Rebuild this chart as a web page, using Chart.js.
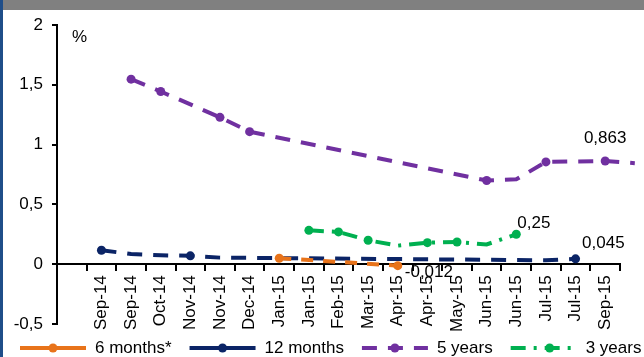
<!DOCTYPE html>
<html>
<head>
<meta charset="utf-8">
<script src="https://cdn.jsdelivr.net/npm/chart.js@4/dist/chart.umd.min.js"></script>
<style>
  html, body { margin: 0; padding: 0; background: #fff; }
  #wrap { position: relative; width: 644px; height: 357px; overflow: hidden; background: #fff; }
  #topbar { position: absolute; left: 0; top: 0; width: 644px; height: 10px; background: #808080; }
  #leftbar { position: absolute; left: 0; top: 0; width: 3px; height: 357px; background: #1f4e89; }
  canvas { position: absolute; left: 0; top: 0; }
</style>
</head>
<body>
<div id="wrap">
  <canvas id="c" width="644" height="357"></canvas>
  <div id="topbar"></div>
  <div id="leftbar"></div>
</div>
<script>
// ---- data ----
const categories = ['', 'Sep-14', 'Sep-14', 'Oct-14', 'Nov-14', 'Nov-14', 'Dec-14', 'Jan-15', 'Jan-15', 'Feb-15',
  'Mar-15', 'Apr-15', 'Apr-15', 'May-15', 'Jun-15', 'Jun-15', 'Jul-15', 'Jul-15', 'Sep-15', ''];
const seriesNames = ['6 months*', '12 months', '5 years', '3 years'];
const sixMonths    = [null, null, null, null, null, null, null, 0.05, null, null, null, -0.012, null, null, null, null, null, null, null, null];
const twelveMonths = [null, 0.117, 0.085, 0.075, 0.07, 0.055, null, null, null, null, null, null, null, null, null, null, 0.033, 0.045, null, null];
const fiveYears    = [null, null, 1.547, 1.444, null, 1.228, 1.108, null, null, null, null, null, null, null, 0.70, 0.71, 0.855, null, 0.863, 0.845];
const threeYears   = [null, null, null, null, null, null, null, null, 0.283, 0.27, 0.20, 0.155, 0.18, 0.186, 0.165, 0.25, null, null, null, null];
// indices whose points carry a visible marker
const markedSix = [7, 11];
const markedTwelve = [1, 4, 17];
const markedFive = [2, 3, 5, 6, 14, 16, 18];
const markedThree = [8, 9, 10, 12, 13, 15];
const yTicks = { min: -0.5, max: 2, step: 0.5 };
const lastCategoryIndex = 18;

const FONT = '"Liberation Sans", Arial, sans-serif';
const fmt = v => String(v).replace('.', ',');
const radii = (vals, marked) => vals.map((v, i) => marked.includes(i) ? 4.5 : 0);

function makeDataset(label, vals, marked, color, dash) {
  return {
    label, data: vals, borderColor: color, backgroundColor: color,
    pointBackgroundColor: color, pointBorderColor: color,
    pointRadius: radii(vals, marked), pointHoverRadius: radii(vals, marked),
    pointBorderWidth: 0, borderWidth: 4, borderDash: dash, tension: 0,
    spanGaps: true, fill: false, clip: false
  };
}

const valueLabels = {
  id: 'valueLabels',
  afterDatasetsDraw(chart, args, opts) {
    const ctx = chart.ctx;
    ctx.save();
    ctx.font = opts.font;
    ctx.fillStyle = '#000';
    ctx.textBaseline = 'alphabetic';
    opts.items.forEach(it => {
      const el = chart.getDatasetMeta(it.dataset).data[it.index];
      const v = chart.data.datasets[it.dataset].data[it.index];
      ctx.textAlign = it.align;
      ctx.fillText(fmt(v), el.x + it.dx, el.y + it.dy);
    });
    // unit label
    ctx.textAlign = 'left';
    ctx.fillText('%', chart.chartArea.left + 15, chart.chartArea.top + 17);
    ctx.restore();
  }
};

const refLegend = {
  id: 'refLegend',
  afterDraw(chart, args, opts) {
    const ctx = chart.ctx;
    ctx.save();
    ctx.font = opts.font;
    let x = opts.startX;
    const y = opts.y;
    chart.data.datasets.forEach((ds, i) => {
      const w = opts.sampleWidth;
      ctx.strokeStyle = ds.borderColor;
      ctx.lineWidth = ds.borderWidth;
      ctx.setLineDash(opts.dashed[i] ? ds.borderDash : []);
      ctx.beginPath(); ctx.moveTo(x, y); ctx.lineTo(x + w, y); ctx.stroke();
      ctx.setLineDash([]);
      ctx.fillStyle = ds.pointBackgroundColor;
      ctx.beginPath(); ctx.arc(x + w / 2 + opts.markerShift[i], y, opts.markerRadius, 0, Math.PI * 2); ctx.fill();
      ctx.fillStyle = '#000';
      ctx.textAlign = 'left';
      ctx.textBaseline = 'middle';
      const tx = x + w + opts.textGap;
      ctx.fillText(ds.label, tx, y);
      x = tx + ctx.measureText(ds.label).width + opts.itemGap;
    });
    ctx.restore();
  }
};

new Chart(document.getElementById('c'), {
  type: 'line',
  data: {
    labels: categories,
    datasets: [
      makeDataset(seriesNames[0], sixMonths, markedSix, '#e8731a', [12, 10]),
      makeDataset(seriesNames[1], twelveMonths, markedTwelve, '#0b2466', [15, 11]),
      makeDataset(seriesNames[2], fiveYears, markedFive, '#7030a0', [15, 11]),
      makeDataset(seriesNames[3], threeYears, markedThree, '#00b050', [15, 8, 3, 8])
    ]
  },
  options: {
    responsive: false,
    animation: false,
    events: [],
    layout: { padding: { left: 0, right: 24, top: 25, bottom: 33 } },
    plugins: {
      legend: { display: false },
      tooltip: { enabled: false },
      valueLabels: {
        font: '17px ' + FONT,
        items: [
          { dataset: 2, index: 18, dx: 0, dy: -18, align: 'center' },
          { dataset: 3, index: 15, dx: 1, dy: -6, align: 'left' },
          { dataset: 1, index: 17, dx: 6.5, dy: -10.5, align: 'left' },
          { dataset: 0, index: 11, dx: 7, dy: 11.5, align: 'left' }
        ]
      },
      refLegend: {
        font: '17px ' + FONT,
        startX: 20, y: 348, sampleWidth: 66, textGap: 9, itemGap: 18,
        markerRadius: 4.5, dashed: [false, false, true, true], markerShift: [0, 0, 0, 6]
      }
    },
    scales: {
      x: {
        type: 'category',
        offset: true,
        position: { y: 0 },
        afterDataLimits: s => { s.max = lastCategoryIndex; },
        grid: { offset: true, drawOnChartArea: false, drawTicks: true, tickLength: 6, color: '#000', lineWidth: 2 },
        border: { display: true, color: '#000', width: 2 },
        ticks: { autoSkip: false, minRotation: 90, maxRotation: 90, padding: 5, color: '#000', font: { family: FONT, size: 17 } },
        afterFit: s => { s.height = 0; }
      },
      y: {
        min: yTicks.min, max: yTicks.max,
        grid: { drawOnChartArea: false, drawTicks: true, tickLength: 5, color: '#000', lineWidth: 2 },
        border: { display: true, color: '#000', width: 2 },
        ticks: { stepSize: yTicks.step, padding: 9, color: '#000', font: { family: FONT, size: 17 }, callback: v => fmt(v) },
        afterFit: s => { s.width = 57; }
      }
    }
  },
  plugins: [valueLabels, refLegend]
});
</script>
</body>
</html>
